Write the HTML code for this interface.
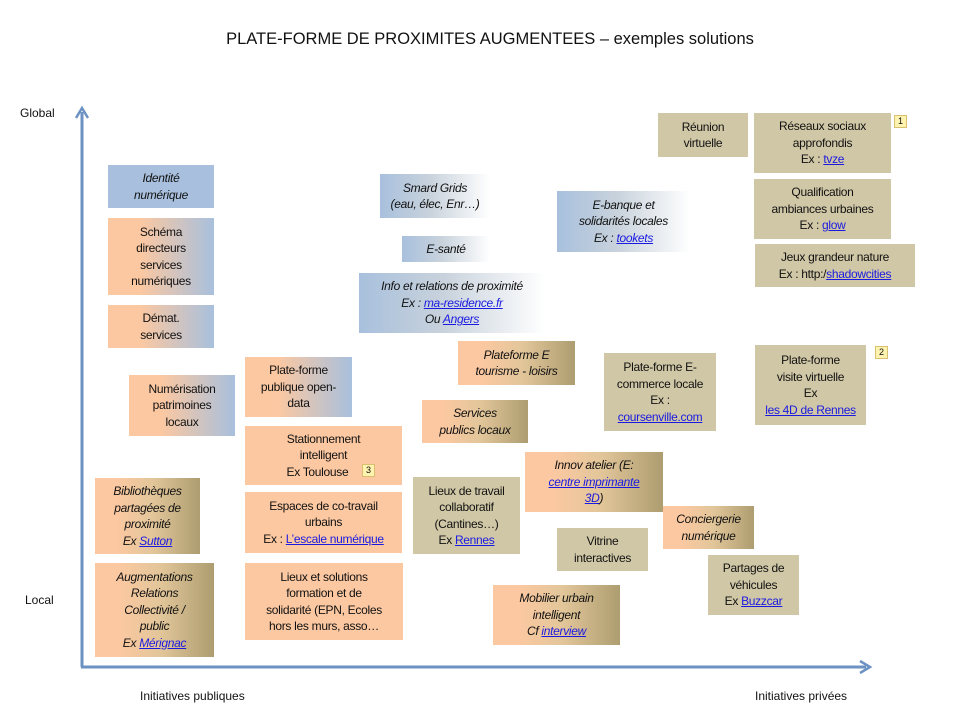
<!DOCTYPE html>
<html><head><meta charset="utf-8">
<style>
html,body{margin:0;padding:0;background:#fff;}
body{width:960px;height:716px;position:relative;overflow:hidden;font-family:"Liberation Sans",sans-serif;color:#111;}
.b{position:absolute;display:flex;align-items:center;justify-content:center;text-align:center;font-size:12px;line-height:16.5px;box-sizing:border-box;}
.b>div{white-space:nowrap;letter-spacing:-0.3px;}
.i{font-style:italic;}
.blue{background:#a8c0dd;}
.or{background:#fcc8a1;}
.ol{background:#d0c7a6;}
.ob{background:linear-gradient(to right,#fcc8a1 30%,#a8c0dd 100%);}
.bw{background:linear-gradient(to right,#a8c0dd 0%,#c8d2dc 45%,#fff 100%);}
.oo{background:linear-gradient(to right,#fcc8a1 20%,#e2c69a 55%,#ad9d70 100%);}
a{color:#1a1ae0;text-decoration:underline;}
.n{position:absolute;width:11px;height:11px;background:#fff3b0;border:1px solid #d8c070;font-size:9px;line-height:11px;text-align:center;}
.t{position:absolute;font-size:12px;}
</style></head><body>
<div class="t" style="left:10px;top:30px;width:960px;text-align:center;font-size:16.5px;">PLATE-FORME DE PROXIMITES AUGMENTEES – exemples solutions</div>
<svg width="960" height="716" style="position:absolute;left:0;top:0">
<line x1="82" y1="667" x2="82" y2="112" stroke="#6b92c2" stroke-width="3"/>
<polyline points="76,118 82,108 88,118" fill="none" stroke="#6b92c2" stroke-width="2.5"/>
<line x1="81" y1="667" x2="866" y2="667" stroke="#6b92c2" stroke-width="3"/>
<polyline points="860,661 870,667 860,673" fill="none" stroke="#6b92c2" stroke-width="2.5"/>
</svg>
<div class="t" style="left:20px;top:106px">Global</div>
<div class="t" style="left:25px;top:593px">Local</div>
<div class="t" style="left:140px;top:689px">Initiatives publiques</div>
<div class="t" style="left:755px;top:689px">Initiatives privées</div>

<div class="b blue i" style="left:108px;top:165px;width:106px;height:43px"><div>Identité<br>numérique</div></div>
<div class="b ob" style="left:108px;top:218px;width:106px;height:77px"><div>Schéma<br>directeurs<br>services<br>numériques</div></div>
<div class="b ob" style="left:108px;top:305px;width:106px;height:43px"><div>Démat.<br>services</div></div>
<div class="b ob" style="left:129px;top:375px;width:106px;height:61px"><div>Numérisation<br>patrimoines<br>locaux</div></div>
<div class="b ob" style="left:245px;top:357px;width:107px;height:60px"><div>Plate-forme<br>publique open-<br>data</div></div>
<div class="b or" style="left:245px;top:426px;width:157px;height:59px"><div>Stationnement<br>intelligent<br>Ex Toulouse&nbsp;&nbsp;&nbsp;&nbsp;</div></div>
<div class="n" style="left:362px;top:464px">3</div>
<div class="b or" style="left:245px;top:492px;width:157px;height:61px"><div>Espaces de co-travail<br>urbains<br>Ex : <a>L’escale numérique</a></div></div>
<div class="b or" style="left:245px;top:563px;width:158px;height:77px"><div>Lieux et solutions<br>formation et de<br>solidarité (EPN, Ecoles<br>hors les murs, asso…</div></div>
<div class="b oo i" style="left:95px;top:478px;width:105px;height:76px"><div>Bibliothèques<br>partagées de<br>proximité<br>Ex <a>Sutton </a></div></div>
<div class="b oo i" style="left:95px;top:563px;width:119px;height:94px"><div>Augmentations<br>Relations<br>Collectivité /<br>public<br>Ex <a>Mérignac</a></div></div>

<div class="b bw i" style="left:380px;top:174px;width:110px;height:44px"><div>Smard Grids<br>(eau, élec, Enr…)</div></div>
<div class="b bw i" style="left:402px;top:236px;width:88px;height:26px"><div>E-santé</div></div>
<div class="b bw i" style="left:359px;top:273px;width:186px;height:60px"><div>Info et relations de proximité<br>Ex : <a>ma-residence.fr</a><br>Ou <a>Angers </a></div></div>
<div class="b bw i" style="left:557px;top:191px;width:133px;height:61px"><div>E-banque et<br>solidarités locales<br>Ex : <a>tookets </a></div></div>
<div class="b oo i" style="left:458px;top:341px;width:117px;height:44px"><div>Plateforme E<br>tourisme - loisirs</div></div>
<div class="b oo i" style="left:422px;top:400px;width:106px;height:43px"><div>Services<br>publics locaux</div></div>
<div class="b ol" style="left:604px;top:353px;width:112px;height:78px"><div>Plate-forme E-<br>commerce locale<br>Ex :<br><a>coursenville.com </a></div></div>

<div class="b ol" style="left:658px;top:113px;width:90px;height:44px"><div>Réunion<br>virtuelle</div></div>
<div class="b ol" style="left:754px;top:113px;width:137px;height:60px"><div>Réseaux sociaux<br>approfondis<br>Ex : <a>tvze</a></div></div>
<div class="n" style="left:894px;top:115px">1</div>
<div class="b ol" style="left:754px;top:179px;width:137px;height:60px"><div>Qualification<br>ambiances urbaines<br>Ex : <a>glow</a></div></div>
<div class="b ol" style="left:755px;top:244px;width:160px;height:43px"><div>Jeux grandeur nature<br>Ex : http:/<a>shadowcities</a></div></div>
<div class="b ol" style="left:755px;top:345px;width:111px;height:80px"><div>Plate-forme<br>visite virtuelle<br>Ex<br><a>les 4D de Rennes</a></div></div>
<div class="n" style="left:875px;top:346px">2</div>

<div class="b ol" style="left:413px;top:477px;width:107px;height:77px"><div>Lieux de travail<br>collaboratif<br>(Cantines…)<br>Ex <a>Rennes</a></div></div>
<div class="b oo i" style="left:525px;top:452px;width:138px;height:60px"><div>Innov atelier (E:<br><a>centre imprimante<br>3D</a>)</div></div>
<div class="b ol" style="left:557px;top:528px;width:91px;height:43px"><div>Vitrine<br>interactives</div></div>
<div class="b oo i" style="left:663px;top:506px;width:91px;height:43px"><div>Conciergerie<br>numérique</div></div>
<div class="b ol" style="left:708px;top:555px;width:91px;height:60px"><div>Partages de<br>véhicules<br>Ex <a>Buzzcar</a></div></div>
<div class="b oo i" style="left:493px;top:585px;width:127px;height:60px"><div>Mobilier urbain<br>intelligent<br>Cf <a>interview </a></div></div>
</body></html>
